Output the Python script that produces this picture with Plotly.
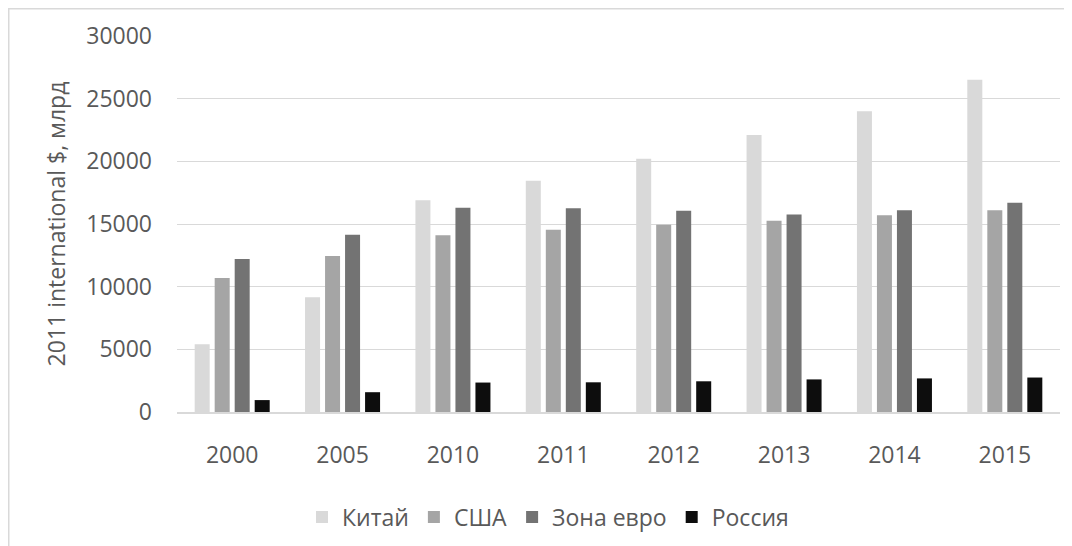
import plotly.graph_objects as go

years = ["2000", "2005", "2010", "2011", "2012", "2013", "2014", "2015"]
china = [5400, 9150, 16900, 18450, 20200, 22100, 24000, 26500]
usa = [10700, 12450, 14100, 14550, 14950, 15250, 15700, 16100]
euro = [12200, 14150, 16300, 16250, 16050, 15750, 16100, 16700]
russia = [950, 1580, 2350, 2370, 2450, 2600, 2680, 2750]

series_names = ["Китай", "США", "Зона евро", "Россия"]
series_values = [china, usa, euro, russia]
series_colors = ["#D9D9D9", "#A5A5A5", "#737373", "#0D0D0D"]
y_ticks = [0, 5000, 10000, 15000, 20000, 25000, 30000]

FONT = "Open Sans"
FS = 23
TXT = "#595959"

W, H = 1064, 538
L, R, T, B = 169, 12, 28, 134
PW, PH = W - L - R, H - T - B

fig = go.Figure()
for name, vals, col in zip(series_names, series_values, series_colors):
    fig.add_trace(go.Bar(x=years, y=vals, name=name, marker_color=col,
                         marker_line_width=0))

fig.update_layout(
    width=W, height=H,
    margin=dict(l=L, r=R, t=T, b=B, autoexpand=False),
    paper_bgcolor="white", plot_bgcolor="white",
    barmode="group", bargap=0.275, bargroupgap=0.25,
    font=dict(family=FONT, size=FS, color=TXT),
    legend=dict(orientation="h", x=(548 - 8 - L) / PW, xanchor="center",
                y=-(517 - 8 - T - PH) / PH, yanchor="middle",
                font=dict(family=FONT, size=FS, color=TXT), itemwidth=30,
                traceorder="normal"),
    showlegend=True,
)
fig.update_yaxes(range=[0, 30000], tickvals=y_ticks, ticktext=[str(v) for v in y_ticks],
                 showgrid=True, gridcolor="#D9D9D9", gridwidth=1, automargin=False,
                 zeroline=False, showline=False, ticklabelstandoff=24,
                 title=dict(text="2011 international $, млрд", standoff=14,
                            font=dict(family=FONT, size=FS, color=TXT)))
fig.update_xaxes(showline=True, linecolor="#D9D9D9", linewidth=1.5, automargin=False,
                 ticks="", ticklabelstandoff=22)

fig.add_shape(type="rect", xref="paper", yref="paper",
              x0=(-L + 0.75) / PW, x1=1.2, y0=-0.6, y1=(PH + T - 0.75) / PH,
              line=dict(color="#D9D9D9", width=1.5), fillcolor="rgba(0,0,0,0)",
              layer="below")

fig.write_html("out.html")
